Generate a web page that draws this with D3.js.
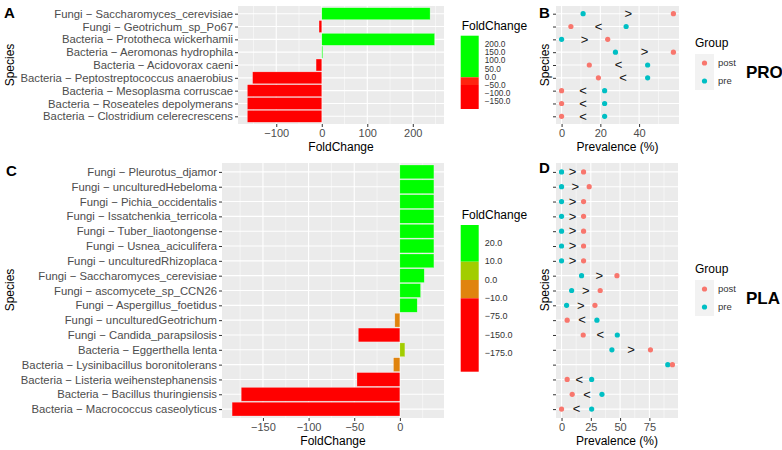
<!DOCTYPE html>
<html>
<head>
<meta charset="utf-8">
<script src="https://cdn.jsdelivr.net/npm/d3@7"></script>
<style>
  body { margin: 0; background: #fff; }
  text { font-family: "Liberation Sans", Arial, sans-serif; }
</style>
</head>
<body>
<div id="chart"></div>
<script>
// ---- PRO data (panels A and B), top row first ----
var speciesPRO = [
    "Fungi \u2212 Saccharomyces_cerevisiae",
    "Fungi \u2212 Geotrichum_sp_Po67",
    "Bacteria \u2212 Prototheca wickerhamii",
    "Bacteria \u2212 Aeromonas hydrophila",
    "Bacteria \u2212 Acidovorax caeni",
    "Bacteria \u2212 Peptostreptococcus anaerobius",
    "Bacteria \u2212 Mesoplasma corruscae",
    "Bacteria \u2212 Roseateles depolymerans",
    "Bacteria \u2212 Clostridium celerecrescens"
];
var foldPRO = [238, -6, 248, 2, -12.5, -152, -163.5, -163.5, -163.5];
var prePRO  = [11.1, 33.3, 0, 27.8, 44.4, 44.4, 22.2, 22.2, 22.2];
var postPRO = [57.7, 4.8, 23.8, 57.7, 14.3, 19.0, 0, 0, 0];
var signPRO = [">", "<", ">", ">", "<", "<", "<", "<", "<"];
var foldTicksPRO = [-100, 0, 100, 200];
var prevTicksPRO = [0, 20, 40];
var legendLabelsPRO = ["200.0", "150.0", "100.0", "50.0", "0.0", "\u221250.0", "\u2212100.0", "\u2212150.0"];

// ---- PLA data (panels C and D), top row first ----
var speciesPLA = [
    "Fungi \u2212 Pleurotus_djamor",
    "Fungi \u2212 unculturedHebeloma",
    "Fungi \u2212 Pichia_occidentalis",
    "Fungi \u2212 Issatchenkia_terricola",
    "Fungi \u2212 Tuber_liaotongense",
    "Fungi \u2212 Usnea_aciculifera",
    "Fungi \u2212 unculturedRhizoplaca",
    "Fungi \u2212 Saccharomyces_cerevisiae",
    "Fungi \u2212 ascomycete_sp_CCN26",
    "Fungi \u2212 Aspergillus_foetidus",
    "Fungi \u2212 unculturedGeotrichum",
    "Fungi \u2212 Candida_parapsilosis",
    "Bacteria \u2212 Eggerthella lenta",
    "Bacteria \u2212 Lysinibacillus boronitolerans",
    "Bacteria \u2212 Listeria weihenstephanensis",
    "Bacteria \u2212 Bacillus thuringiensis",
    "Bacteria \u2212 Macrococcus caseolyticus"
];
var foldPLA = [37.3, 37.3, 37.3, 37.3, 37.3, 37.3, 37.3, 26.7, 22.7, 19, -5.5, -45.5, 5.5, -7, -47, -173.8, -183.8];
var prePLA  = [0, 0, 0, 0, 0, 0, 0, 17.1, 8.6, 4.3, 30.2, 47.6, 43, 90.7, 25.7, 34.5, 25.7];
var postPLA = [18.8, 23.6, 18.8, 18.8, 18.8, 18.8, 18.8, 47.3, 33, 28.5, 4.8, 18.5, 75.9, 94.7, 4.8, 9.1, 0];
var signPLA = [">", ">", ">", ">", ">", ">", ">", ">", ">", ">", "<", "<", ">", "", "<", "<", "<"];
var foldTicksPLA = [-150, -100, -50, 0];
var prevTicksPLA = [0, 25, 50, 75];
var legendLabelsPLA = ["20.0", "10.0", "0.0", "\u221210.0", "\u221275.0", "\u2212150.0", "\u2212175.0"];

var groups = ["post", "pre"];
var groupColors = ["#F8766D", "#00BFC4"];

var w = 782, h = 450;
var svg = d3.select("#chart").append("svg")
    .attr("width", w)
    .attr("height", h)
    .style("display", "block");
svg.append("rect").attr("width", w).attr("height", h).attr("fill", "#fff");

var fmt = function (d) { return d < 0 ? "\u2212" + Math.abs(d) : "" + d; };

// ggplot style continuous domain: data range plus 5% each side
function expanded(values) {
    var ext = d3.extent(values);
    var pad = (ext[1] - ext[0]) * 0.05;
    return [ext[0] - pad, ext[1] + pad];
}

// minor gridlines half way between the major breaks
function minorTicks(ticks, domain) {
    var step = ticks[1] - ticks[0];
    var out = [];
    for (var v = ticks[0] - step / 2; v <= domain[1]; v += step) {
        if (v >= domain[0]) out.push(v);
    }
    return out;
}

// grey panel with white grid, returns scales
function panel(box, cats, domain, ticks, tickLabels, labelSize) {
    var x = d3.scaleLinear().domain(domain).range([box.l, box.r]);
    var y = d3.scalePoint().domain(cats).range([box.t, box.b]).padding(0.6);
    var g = svg.append("g");

    g.append("rect")
        .attr("x", box.l).attr("y", box.t)
        .attr("width", box.r - box.l).attr("height", box.b - box.t)
        .attr("fill", "#EBEBEB");

    g.selectAll(".minor").data(minorTicks(ticks, domain)).enter().append("line")
        .attr("x1", function (d) { return x(d); }).attr("x2", function (d) { return x(d); })
        .attr("y1", box.t).attr("y2", box.b)
        .attr("stroke", "#fff").attr("stroke-width", 0.5);

    g.selectAll(".majorx").data(ticks).enter().append("line")
        .attr("x1", function (d) { return x(d); }).attr("x2", function (d) { return x(d); })
        .attr("y1", box.t).attr("y2", box.b)
        .attr("stroke", "#fff").attr("stroke-width", 1.1);

    g.selectAll(".majory").data(cats).enter().append("line")
        .attr("x1", box.l).attr("x2", box.r)
        .attr("y1", function (d) { return y(d); }).attr("y2", function (d) { return y(d); })
        .attr("stroke", "#fff").attr("stroke-width", 1.1);

    // x axis
    var xAxis = d3.axisBottom(x).tickValues(ticks).tickFormat(fmt).tickSize(3).tickPadding(2);
    var ax = svg.append("g").attr("transform", "translate(0," + box.b + ")").call(xAxis);
    ax.select(".domain").remove();
    ax.selectAll("line").attr("stroke", "#333").attr("stroke-width", 1);
    ax.selectAll("text").attr("fill", "#4D4D4D").attr("font-size", 11)
        .attr("font-family", "Liberation Sans, Arial, sans-serif");

    // y axis
    var yAxis = d3.axisLeft(y).tickSize(3).tickPadding(2);
    if (!tickLabels) yAxis.tickFormat("");
    var ay = svg.append("g").attr("transform", "translate(" + box.l + ",0)").call(yAxis);
    ay.select(".domain").remove();
    ay.selectAll("line").attr("stroke", "#333").attr("stroke-width", 1);
    ay.selectAll("text").attr("fill", "#4D4D4D").attr("font-size", labelSize)
        .attr("font-family", "Liberation Sans, Arial, sans-serif");

    return { x: x, y: y };
}

function barPanel(box, cats, values, ticks, colorOf, labelSize) {
    var s = panel(box, cats, expanded(values), ticks, true, labelSize);
    var bh = s.y.step() * 0.93;
    svg.append("g").selectAll("rect").data(values).enter().append("rect")
        .attr("x", function (d) { return s.x(Math.min(0, d)); })
        .attr("y", function (d, i) { return s.y(cats[i]) - bh / 2; })
        .attr("width", function (d) { return Math.abs(s.x(d) - s.x(0)); })
        .attr("height", bh)
        .attr("fill", function (d) { return colorOf(d); })
        .attr("stroke", "#fff").attr("stroke-opacity", 0.5).attr("stroke-width", 0.5);
    axisTitle((box.l + box.r) / 2, box.b + 27, "FoldChange");
    return s;
}

function dotPanel(box, cats, pre, post, signs, ticks) {
    var s = panel(box, cats, expanded(pre.concat(post)), ticks, false, 10);
    var g = svg.append("g");
    g.selectAll(".sign").data(signs).enter().append("text")
        .attr("x", function (d, i) { return s.x((pre[i] + post[i]) / 2); })
        .attr("y", function (d, i) { return s.y(cats[i]); })
        .attr("dy", "0.33em")
        .attr("text-anchor", "middle")
        .attr("font-size", 13)
        .attr("fill", "#111")
        .text(function (d) { return d; });
    g.selectAll(".pre").data(pre).enter().append("circle")
        .attr("cx", function (d) { return s.x(d); })
        .attr("cy", function (d, i) { return s.y(cats[i]); })
        .attr("r", 2.6).attr("fill", groupColors[1]);
    g.selectAll(".post").data(post).enter().append("circle")
        .attr("cx", function (d) { return s.x(d); })
        .attr("cy", function (d, i) { return s.y(cats[i]); })
        .attr("r", 2.6).attr("fill", groupColors[0]);
    axisTitle((box.l + box.r) / 2, box.b + 27, "Prevalence (%)");
    return s;
}

function axisTitle(x, y, label) {
    svg.append("text").attr("x", x).attr("y", y).attr("text-anchor", "middle")
        .attr("font-size", 12).attr("fill", "#000").text(label);
}

function speciesTitle(x, y) {
    svg.append("text").attr("transform", "translate(" + x + "," + y + ") rotate(-90)")
        .attr("text-anchor", "middle").attr("font-size", 12).attr("fill", "#000")
        .text("Species");
}

function letter(x, y, t, size) {
    svg.append("text").attr("x", x).attr("y", y)
        .attr("font-family", "Lato, 'Open Sans', sans-serif")
        .attr("font-weight", "bold").attr("font-size", size).attr("fill", "#000").text(t);
}

// colour bar legend: segs = [[y0, y1, colour]], labels placed evenly
function colourLegend(x, titleY, segs, labels, labelY0, labelStep, labelSize) {
    svg.append("text").attr("x", x + 1).attr("y", titleY)
        .attr("font-size", 12).attr("fill", "#000").text("FoldChange");
    svg.append("g").selectAll("rect").data(segs).enter().append("rect")
        .attr("x", x).attr("width", 18)
        .attr("y", function (d) { return d[0]; })
        .attr("height", function (d) { return d[1] - d[0]; })
        .attr("fill", function (d) { return d[2]; });
    svg.append("g").selectAll("text").data(labels).enter().append("text")
        .attr("x", x + 24)
        .attr("y", function (d, i) { return labelY0 + i * labelStep; })
        .attr("dy", "0.35em")
        .attr("font-size", labelSize).attr("fill", "#333")
        .text(function (d) { return d; });
}

function groupLegend(x, titleY, tag) {
    svg.append("text").attr("x", x).attr("y", titleY)
        .attr("font-size", 12).attr("fill", "#000").text("Group");
    var top = titleY + 7;
    groups.forEach(function (gname, i) {
        var ky = top + i * 18;
        svg.append("rect").attr("x", x).attr("y", ky).attr("width", 19).attr("height", 18)
            .attr("fill", "#F2F2F2");
        svg.append("circle").attr("cx", x + 9.5).attr("cy", ky + 9).attr("r", 2.6)
            .attr("fill", groupColors[i]);
        svg.append("text").attr("x", x + 23).attr("y", ky + 9).attr("dy", "0.35em")
            .attr("font-size", 9.5).attr("fill", "#333").text(gname);
    });
    letter(x + 51, top + 24, tag, 17);
}

// ---- Panel A ----
var colorPRO = function (d) { return d >= 0 ? "#00FF00" : "#FF0000"; };
barPanel({ l: 238, r: 444, t: 6, b: 124 }, speciesPRO, foldPRO, foldTicksPRO, colorPRO, 11.3);
speciesTitle(14, 65);
letter(4, 18, "A", 15);
colourLegend(460.7, 29.5,
    [[35.7, 77.3, "#00FF00"], [77.3, 85, "#FF2410"], [85, 109, "#FF0000"]],
    legendLabelsPRO, 44, 8.2, 8.3);

// ---- Panel B ----
dotPanel({ l: 556, r: 679, t: 6, b: 124 }, speciesPRO, prePRO, postPRO, signPRO, prevTicksPRO);
speciesTitle(549, 65);
letter(539, 18, "B", 15);
groupLegend(695, 47, "PRO");

// ---- Panel C ----
var colorPLA = function (d) {
    if (d >= 10) return "#00FF00";
    if (d >= 0) return "#A2CD00";
    if (d >= -10) return "#E0840E";
    return "#FF0000";
};
barPanel({ l: 222, r: 444, t: 163, b: 418 }, speciesPLA, foldPLA, foldTicksPLA, colorPLA, 11.3);
speciesTitle(14, 290);
letter(6, 176, "C", 15);
colourLegend(460.7, 218.5,
    [[225, 261.7, "#00FF00"], [261.7, 280, "#A2CD00"], [280, 298.3, "#E0840E"], [298.3, 371.7, "#FF0000"]],
    legendLabelsPLA, 243, 18.3, 9);

// ---- Panel D ----
dotPanel({ l: 556, r: 678, t: 163, b: 418 }, speciesPLA, prePLA, postPLA, signPLA, prevTicksPLA);
speciesTitle(549, 290);
letter(539, 173, "D", 15);
groupLegend(695, 273, "PLA");
</script>
</body>
</html>
